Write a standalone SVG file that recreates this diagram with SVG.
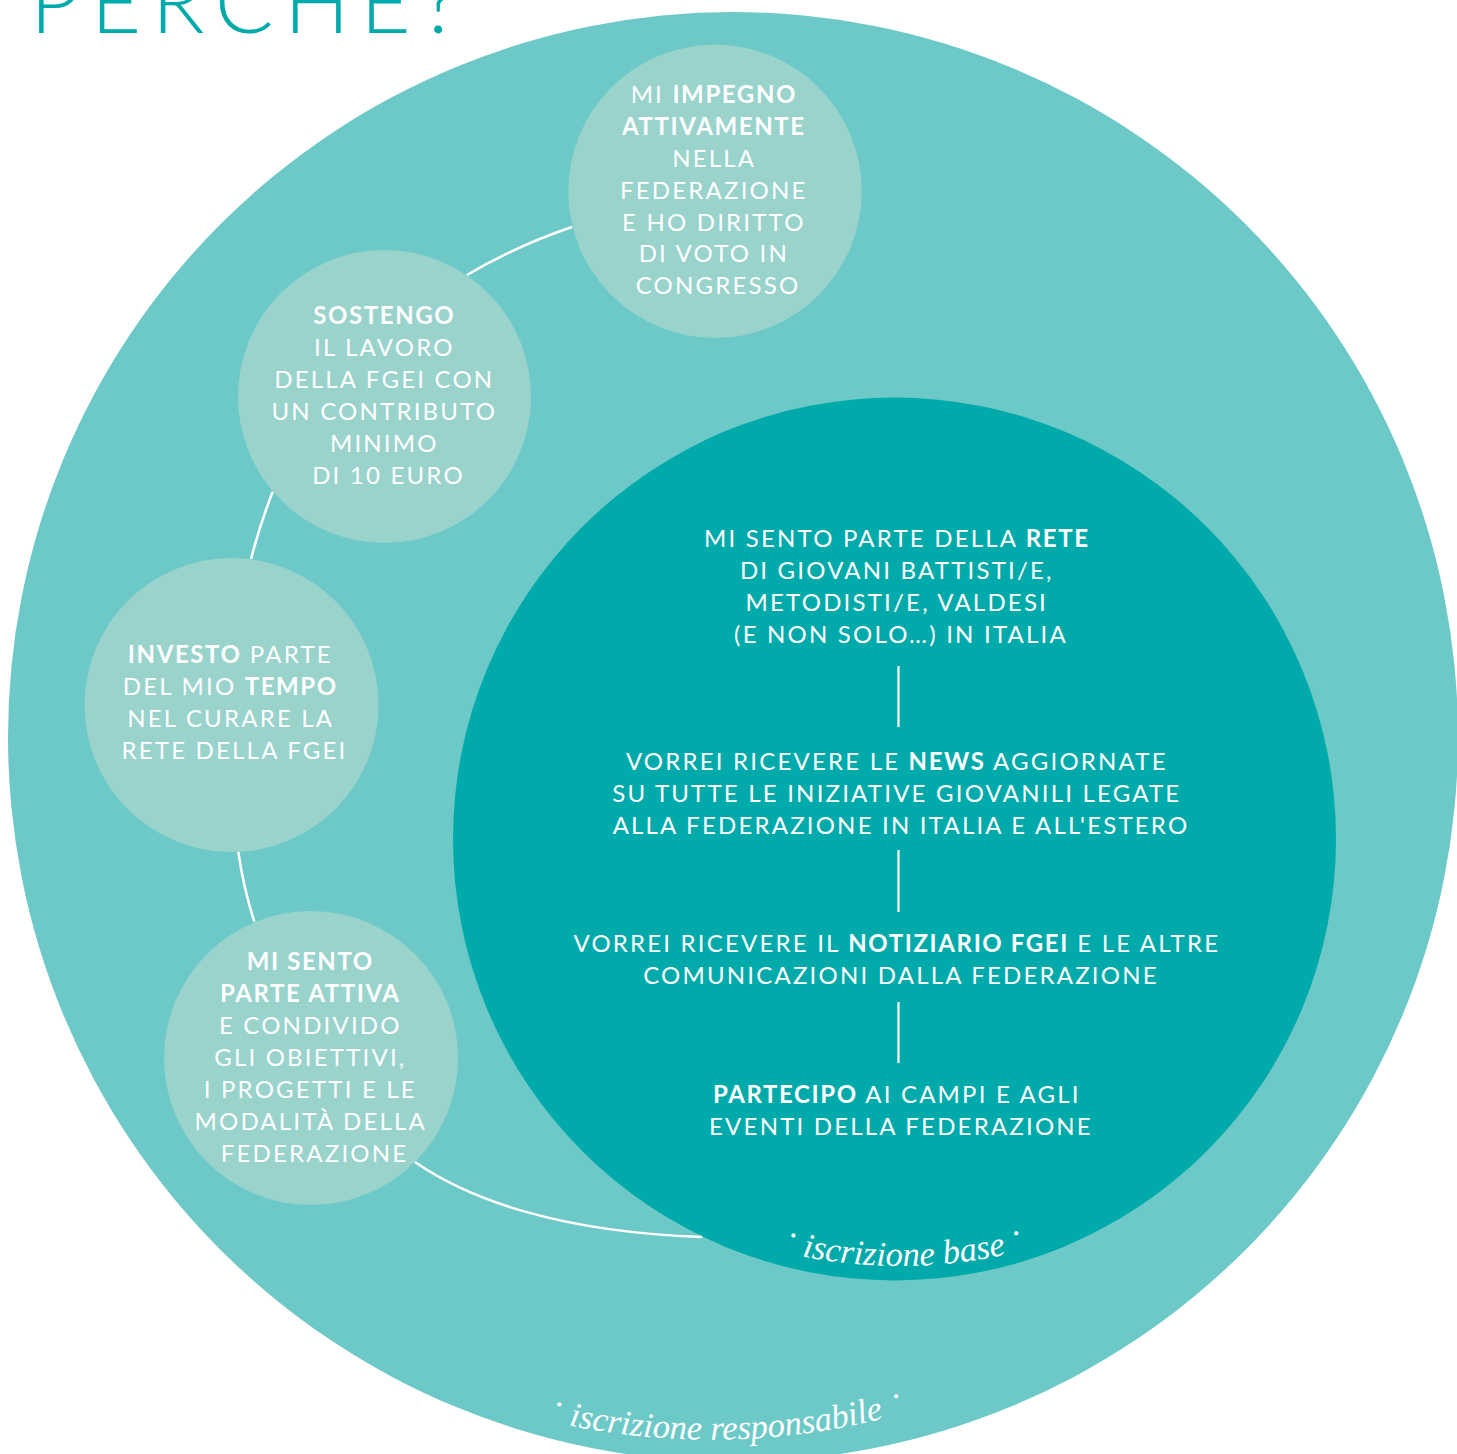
<svg xmlns="http://www.w3.org/2000/svg" width="1457" height="1454" viewBox="0 0 1457 1454">
<style>
.t{font-family:Lato,"Open Sans","Liberation Sans",sans-serif;font-weight:400;font-size:24px;fill:#fff;text-anchor:middle;letter-spacing:2.2px}
.b{font-weight:700;letter-spacing:1.6px}
.it{font-family:"Liberation Serif","Times New Roman",serif;font-style:italic;font-size:34.5px;fill:#fff}
.conn{fill:none;stroke:#fff;stroke-width:2.5;stroke-linecap:butt}
.sep{fill:none;stroke:#fff;stroke-width:2.2}
.small{fill:#99d3cc}
</style>
<defs>
<path id="arcBase" d="M 406,772 A 494 494 0 0 0 1394,772"/>
<path id="arcResp" d="M 1,730 A 710 710 0 0 0 1421,730"/>
</defs>
<rect width="1457" height="1454" fill="#fff"/>
<text id="title" x="30" y="33" style="font-family:Lato,'Liberation Sans',sans-serif;font-weight:300;font-size:87px;fill:#00a9aa;letter-spacing:10.5px">PERCHÉ?</text>

<g id="outer">
<circle cx="733" cy="737" r="725" fill="#6dc9c8"/>
<text class="it"><textPath href="#arcResp" startOffset="1132" text-anchor="middle"><tspan dy="-7">·</tspan><tspan dy="7" dx="10">iscrizione responsabile</tspan><tspan dy="-7" dx="13">·</tspan></textPath></text>
</g>

<g id="node-impegno">
<circle class="small" cx="715" cy="191.3" r="146.7"/>
<text class="t">
<tspan x="718" y="103.3">MI <tspan class="b">IMPEGNO</tspan></tspan>
<tspan x="718" y="135.1" class="b">ATTIVAMENTE</tspan>
<tspan x="718" y="166.9">NELLA</tspan>
<tspan x="718" y="198.7">FEDERAZIONE</tspan>
<tspan x="718" y="230.5">E HO DIRITTO</tspan>
<tspan x="718" y="262.3">DI VOTO IN</tspan>
<tspan x="718" y="294.1">CONGRESSO</tspan>
</text>
</g>

<g id="node-sostengo">
<circle class="small" cx="384.5" cy="396.5" r="146.5"/>
<text class="t">
<tspan x="388.5" y="323.5" class="b">SOSTENGO</tspan>
<tspan x="388.5" y="355.5">IL LAVORO</tspan>
<tspan x="388.5" y="387.5">DELLA FGEI CON</tspan>
<tspan x="388.5" y="419.5">UN CONTRIBUTO</tspan>
<tspan x="388.5" y="451.5">MINIMO</tspan>
<tspan x="388.5" y="483.5">DI 10 EURO</tspan>
</text>
</g>

<g id="node-investo">
<circle class="small" cx="231.5" cy="705" r="147"/>
<text class="t">
<tspan x="234.5" y="662.5"><tspan class="b">INVESTO</tspan> PARTE</tspan>
<tspan x="234.5" y="694.5">DEL MIO <tspan class="b">TEMPO</tspan></tspan>
<tspan x="234.5" y="726.5">NEL CURARE LA</tspan>
<tspan x="234.5" y="758.5">RETE DELLA FGEI</tspan>
</text>
</g>

<g id="node-sento">
<circle class="small" cx="311" cy="1058" r="147"/>
<text class="t">
<tspan x="314.5" y="970" class="b">MI SENTO</tspan>
<tspan x="314.5" y="1002" class="b">PARTE ATTIVA</tspan>
<tspan x="314.5" y="1034">E CONDIVIDO</tspan>
<tspan x="314.5" y="1066">GLI OBIETTIVI,</tspan>
<tspan x="314.5" y="1098">I PROGETTI E LE</tspan>
<tspan x="314.5" y="1130">MODALITÀ DELLA</tspan>
<tspan x="314.5" y="1162">FEDERAZIONE</tspan>
</text>
</g>

<g id="node-base">
<circle cx="894.5" cy="839" r="441.5" fill="#00aaaa"/>
<text class="t">
<tspan x="901" y="547">MI SENTO PARTE DELLA <tspan class="b">RETE</tspan></tspan>
<tspan x="901" y="579">DI GIOVANI BATTISTI/E,</tspan>
<tspan x="901" y="611">METODISTI/E, VALDESI</tspan>
<tspan x="901" y="643">(E NON SOLO…) IN ITALIA</tspan>
</text>
<text class="t">
<tspan x="901" y="770">VORREI RICEVERE LE <tspan class="b">NEWS</tspan> AGGIORNATE</tspan>
<tspan x="901" y="802">SU TUTTE LE INIZIATIVE GIOVANILI LEGATE</tspan>
<tspan x="901" y="834">ALLA FEDERAZIONE IN ITALIA E ALL'ESTERO</tspan>
</text>
<text class="t">
<tspan x="901" y="951.5">VORREI RICEVERE IL <tspan class="b">NOTIZIARIO FGEI</tspan> E LE ALTRE</tspan>
<tspan x="901" y="983.5">COMUNICAZIONI DALLA FEDERAZIONE</tspan>
</text>
<text class="t">
<tspan x="901" y="1102.5"><tspan class="b">PARTECIPO</tspan> AI CAMPI E AGLI</tspan>
<tspan x="901" y="1134.5">EVENTI DELLA FEDERAZIONE</tspan>
</text>
<text class="it"><textPath href="#arcBase" startOffset="780.5" text-anchor="middle"><tspan dy="-7">·</tspan><tspan dy="7" dx="9">iscrizione base</tspan><tspan dy="-7" dx="10">·</tspan></textPath></text>
</g>

<g id="connectors">
<path class="conn" d="M 572,227 Q 517,245.5 467,275"/>
<path class="conn" d="M 272.7,491.7 Q 259.9,524.7 251,559"/>
<path class="conn" d="M 238.3,851.7 Q 243.4,887.4 254.3,921.7"/>
<path class="conn" d="M 415,1162 C 470,1200 560,1232 702,1237"/>
<line class="sep" x1="898.5" y1="666" x2="898.5" y2="727"/>
<line class="sep" x1="898.5" y1="850" x2="898.5" y2="912"/>
<line class="sep" x1="898.5" y1="1002" x2="898.5" y2="1063"/>
</g>
</svg>
